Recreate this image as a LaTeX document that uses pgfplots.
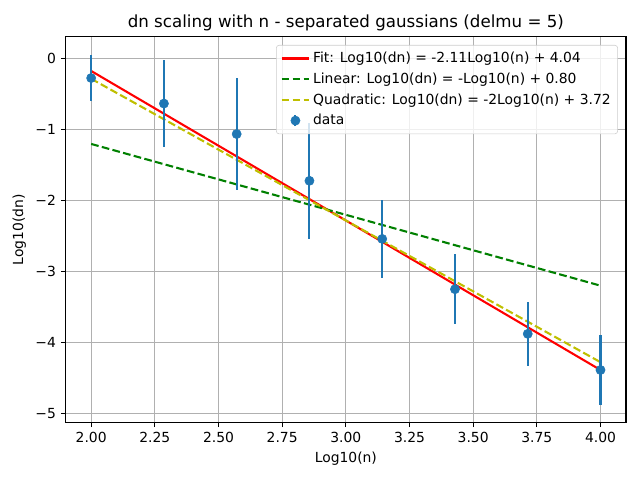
\documentclass[border=0pt]{standalone}
\usepackage{fontspec}
\setmainfont{DejaVu Sans}
\usepackage{pgfplots}
\pgfplotsset{compat=1.18}
\usepackage{pgfplotstable}
\definecolor{tabblue}{HTML}{1F77B4}
\definecolor{mplgreen}{HTML}{008000}
\definecolor{mplyellow}{HTML}{BFBF00}
\definecolor{gridgray}{HTML}{B0B0B0}
\definecolor{legedge}{HTML}{CCCCCC}
\pgfplotstableread{
x y err
2.0000 -0.27 0.32
2.2857 -0.63 0.61
2.5714 -1.06 0.79
2.8571 -1.72 0.82
3.1429 -2.54 0.55
3.4286 -3.25 0.49
3.7143 -3.88 0.45
4.0000 -4.39 0.49
}\datatable
\begin{document}
\begin{tikzpicture}
\path[use as bounding box] (-47.3pt,-41.6pt) rectangle (413.5pt,304pt);
\begin{axis}[
  at={(0,0)}, anchor=south west,
  scale only axis, width=403.4pt, height=277.4pt,
  xmin=1.9, xmax=4.1, ymin=-5.127, ymax=0.31,
  xtick={2,2.25,2.5,2.75,3,3.25,3.5,3.75,4},
  xticklabels={2.00,2.25,2.50,2.75,3.00,3.25,3.50,3.75,4.00},
  ytick={-5,-4,-3,-2,-1,0},
  yticklabels={−5,−4,−3,−2,−1,0},
  tick label style={font=\fontsize{10}{12}\selectfont},
  label style={font=\fontsize{10}{12}\selectfont},
  title style={font=\fontsize{12}{14.4}\selectfont, yshift=-5pt},
  title={dn scaling with n - separated gaussians (delmu = 5)},
  xlabel={Log10(n)}, ylabel={Log10(dn)},
  grid=major,
  major grid style={color=gridgray, line width=0.8pt},
  axis line style={line width=0.8pt},
  tick align=outside, tick pos=left,
  major tick length=3.5pt,
  every tick/.style={black, line width=0.8pt},
  legend cell align=left,
  legend style={at={(1,1)}, anchor=north east, xshift=-5.8pt, yshift=-5.8pt,
    draw=legedge, rounded corners=2pt, fill=white, fill opacity=0.8, text opacity=1,
    font=\fontsize{10}{12}\selectfont, row sep=1.8pt, inner sep=3pt},
  legend image code/.code={\draw[#1, draw opacity=1] (0pt,0pt) -- (20pt,0pt);},
]
\addplot[red, line width=1.5pt] coordinates {(2,-0.17) (4,-4.39)};
\addlegendentry{Fit: Log10(dn) = -2.11Log10(n) + 4.04}
\addplot[mplgreen, line width=1.5pt, dash pattern=on 5.55pt off 2.4pt] coordinates {(2,-1.2) (4,-3.2)};
\addlegendentry{Linear: Log10(dn) = -Log10(n) + 0.80}
\addplot[mplyellow, line width=1.5pt, dash pattern=on 5.55pt off 2.4pt] coordinates {(2,-0.28) (4,-4.28)};
\addlegendentry{Quadratic: Log10(dn) = -2Log10(n) + 3.72}
\addplot[only marks, mark=*, mark size=3.3pt, mark options={draw=tabblue, fill=tabblue},
  legend image code/.code={%
    \draw[tabblue, line width=1.5pt, draw opacity=1] (10pt,-4pt) -- (10pt,4pt);
    \fill[tabblue, fill opacity=1] (10pt,0pt) circle (3.3pt);},
  error bars/.cd, y dir=both, y explicit, error mark=none,
  error bar style={line width=1.5pt, tabblue}]
  table[x=x, y=y, y error=err] {\datatable};
\addlegendentry{data}
\end{axis}
\end{tikzpicture}
\end{document}
